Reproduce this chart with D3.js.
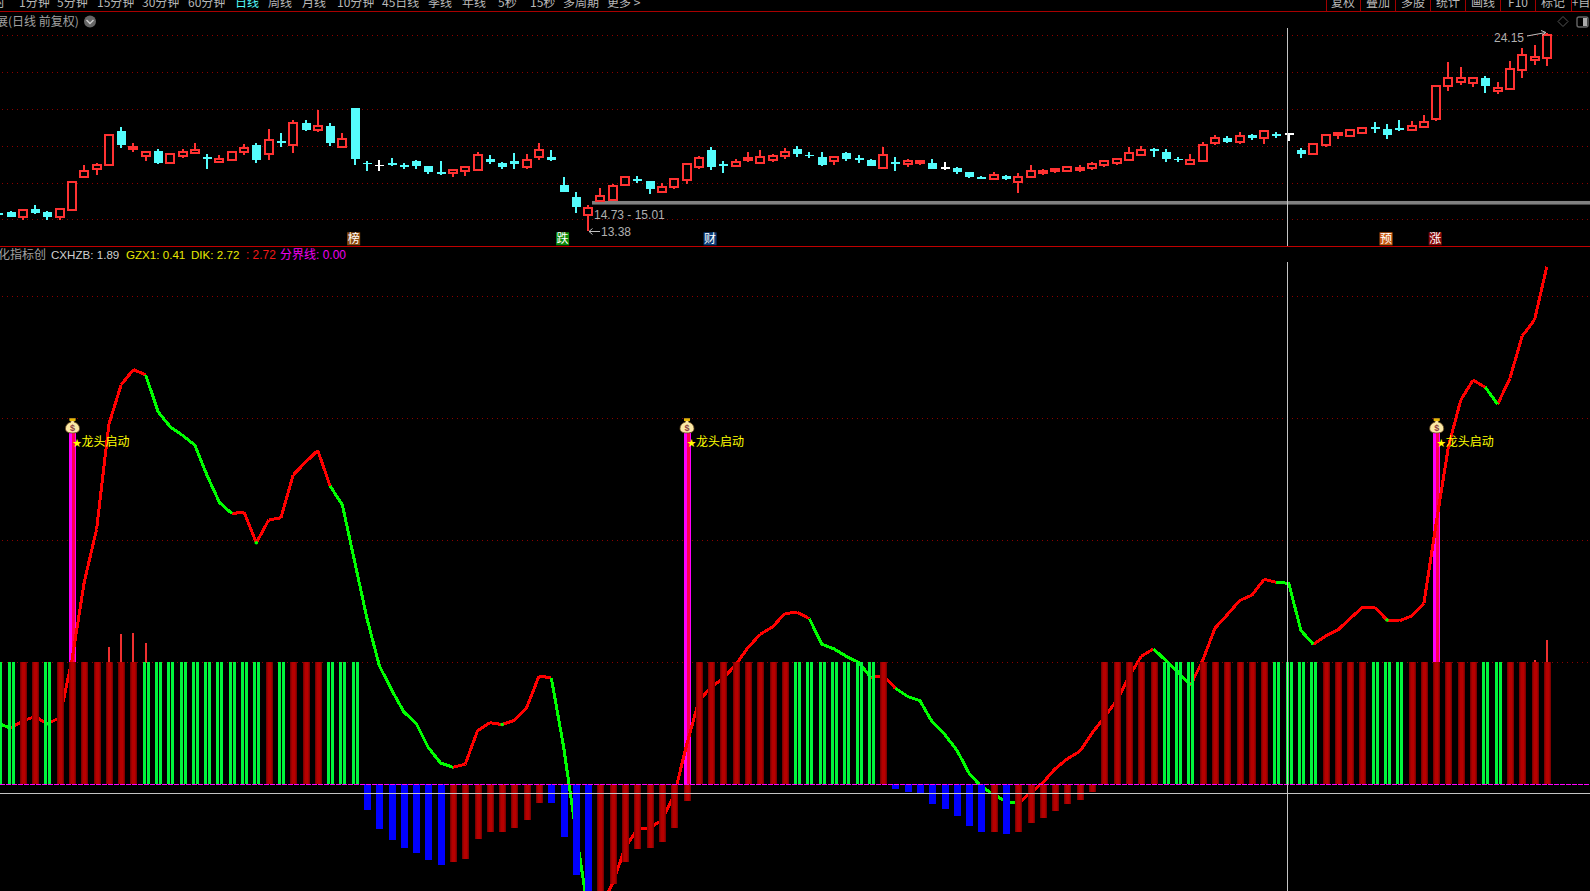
<!DOCTYPE html>
<html><head><meta charset="utf-8">
<script src="https://cdn.jsdelivr.net/npm/d3@7"></script>
<style>html,body{margin:0;padding:0;background:#000;overflow:hidden}svg{display:block}</style>
</head><body><svg id="c" width="1590" height="891"></svg>
<script>
// ---- price panel (daily candles)
const opens=[14.33,14.40,14.11,14.56,14.38,14.11,14.53,16.30,16.74,16.97,18.80,17.86,17.44,17.71,17.06,17.46,17.62,17.41,17.10,17.24,17.64,18.04,17.53,18.24,18.02,19.22,18.84,19.07,17.95,20.05,17.08,16.97,17.06,16.95,17.17,16.90,16.57,16.50,16.63,16.66,17.28,17.04,17.15,16.83,17.41,17.37,15.87,15.21,14.22,15.01,15.07,15.85,16.17,16.07,15.47,15.76,16.12,16.86,17.77,17.01,16.92,17.24,17.04,17.23,17.46,17.82,17.52,17.39,17.17,17.61,17.33,17.21,16.81,17.10,17.01,17.04,17.06,16.83,16.79,16.55,16.30,16.17,16.36,16.01,16.28,16.50,16.61,16.65,16.70,16.77,16.94,17.06,17.24,17.52,17.82,17.66,17.28,17.03,17.15,18.17,18.42,18.22,18.58,18.40,18.62,18.67,17.75,17.53,18.02,18.57,18.51,18.71,19.00,18.91,18.95,18.87,19.00,19.47,21.23,21.48,21.43,21.68,20.99,21.07,22.10,22.68,22.75];
const highs=[14.35,14.47,14.51,14.76,14.43,14.56,16.05,16.94,17.04,18.60,19.02,18.13,17.66,17.81,17.53,17.84,18.13,17.53,17.48,17.70,18.11,18.13,18.89,18.67,19.38,19.40,19.94,19.22,18.67,20.05,17.17,17.21,17.32,17.04,17.23,16.90,17.17,16.70,16.83,17.64,17.50,17.10,17.59,17.53,18.13,17.77,16.30,15.49,14.76,15.69,15.92,16.34,16.34,16.07,15.96,16.26,17.03,17.44,17.93,17.17,17.28,17.64,17.77,17.55,17.86,17.99,17.66,17.66,17.37,17.66,17.48,17.28,17.93,17.39,17.26,17.24,17.30,17.10,16.84,16.55,16.37,16.57,16.43,16.52,16.95,16.74,16.81,16.88,16.95,17.10,17.23,17.33,17.93,17.99,17.86,17.82,17.39,17.55,18.19,18.58,18.53,18.75,18.66,18.82,18.75,18.69,17.88,18.11,18.60,18.67,18.87,18.98,19.29,19.18,19.40,19.34,19.65,21.27,22.55,22.28,21.66,21.79,21.47,22.61,23.31,23.46,24.15];
const lows=[14.22,14.11,13.98,14.31,13.98,13.98,14.47,16.26,16.43,16.94,17.90,17.68,17.19,17.03,17.06,17.35,17.57,16.75,17.08,17.19,17.52,17.08,17.24,17.95,17.62,18.82,18.77,18.00,17.90,16.97,16.65,16.65,16.92,16.75,16.75,16.46,16.41,16.32,16.37,16.66,17.03,16.74,16.74,16.75,17.24,17.17,15.50,14.36,13.38,15.01,15.00,15.85,15.98,15.38,15.47,15.65,15.94,16.74,16.68,16.52,16.92,17.13,17.04,17.12,17.28,17.39,17.33,16.90,16.95,17.17,17.06,16.92,16.74,16.63,16.86,16.95,16.75,16.68,16.48,16.25,16.19,16.17,16.14,15.45,16.28,16.41,16.54,16.65,16.59,16.68,16.86,16.95,17.17,17.44,17.39,17.12,17.12,16.95,17.15,18.04,18.13,18.10,18.31,18.11,18.42,18.26,17.33,17.53,17.93,18.38,18.51,18.64,18.69,18.37,18.82,18.82,19.00,19.36,20.98,21.30,21.19,20.89,20.81,21.07,21.70,22.39,22.35];
const closes=[14.24,14.11,14.51,14.34,14.11,14.56,16.05,16.63,16.95,18.60,18.04,17.93,17.66,17.06,17.53,17.68,17.77,17.30,17.26,17.64,17.90,17.23,18.31,18.13,19.25,18.87,19.07,18.15,18.38,17.30,17.03,16.92,16.99,16.92,16.92,16.59,16.52,16.70,16.83,17.52,17.13,16.86,17.03,17.24,17.79,17.23,15.50,14.67,14.60,15.29,15.79,16.28,16.12,15.65,15.76,16.17,17.03,17.32,16.86,16.88,17.10,17.32,17.41,17.42,17.68,17.55,17.46,16.95,17.37,17.28,17.28,16.92,17.52,17.04,17.15,17.15,16.75,16.75,16.59,16.30,16.25,16.43,16.21,16.32,16.65,16.63,16.74,16.83,16.81,17.03,17.17,17.28,17.61,17.79,17.70,17.28,17.21,17.21,18.06,18.44,18.20,18.53,18.42,18.82,18.55,18.60,17.53,18.11,18.60,18.67,18.87,18.98,18.89,18.58,18.87,19.05,19.31,21.27,21.70,21.70,21.66,21.25,21.14,22.19,22.95,22.81,24.04];
const whiteDays=[32,78,106];            // 1-based day numbers drawn as white crosses
const priceTicks=[24,22,20,18,16,14];
const channelPrice=14.9;
const eventDays=[30,47,59,114,118];     // the day each tag sits under
const eventTags=["榜","跌","财","预","涨"];
// ---- indicator panel
const lineValues=[50,46,52,55.5,49.6,54.7,102,166,209,295,327.5,340,335.5,305.5,293,286,278,253,231,222,223,198,216.6,218.5,253.6,264,273.7,244.6,229,182.6,136,97.5,77.5,59.3,50,30,17.4,14,16.6,44,50.5,49,52.5,63,88.7,87.3,30.8,-39,-104,-101,-81,-52,-37,-35.6,-29.5,-8.8,31.8,68.5,79.5,87,98,112,123,129,140,141,135.8,115,111,105,100,87.8,89,78.7,72,68.5,51,41,28,9,-2,-8.2,-14.3,-15.7,-6.9,1.4,12.8,21,27,42,55,68.5,88,105,111,101.5,92,81,101.5,128,139,150.6,155,168,165.6,164.8,126,114.8,121.6,126.5,136,145,145,134.7,134,138,148.4,214,277,315,331.4,325.4,311.5,332.8,367.5,380.6,424.3];
const greenRuns=[[1,2],[13,20],[28,38],[46,49],[67,72],[74,84],[95,98],[105,108],[122,123]];
const greenDots=[5,22,42,114];
const barValues=[100,100,100,100,100,100,100,100,100,100,100,100,100,100,100,100,100,100,100,100,100,100,100,100,100,100,100,100,100,100,-21,-37,-46,-52,-56,-62,-66,-64,-61,-45,-39,-39,-36,-29,-15,-15,-43,-74,-93,-101,-82,-64,-53,-52,-47,-36,-14,100,100,100,100,100,100,100,100,100,100,100,100,100,100,100,100,-4,-6,-7,-16,-20,-26,-34,-39,-39,-41,-39,-32,-28,-22,-16,-13,-6,100,100,100,100,100,100,100,100,100,100,100,100,100,100,100,100,100,100,100,100,100,100,100,100,100,100,100,100,100,100,100,100,100,100,100,100,100];
const barKinds="GGRRGRRRRRRRGGGGGGGGGGRGRRRGGGBBBBBBBRRRRRRRRBBBBRRRRRRRRRRRRRRRRGGGGGGGRBBBBBBBBRBRRRRRRRRRRRRGGGRRRRRRGGGGRRRRGGGRRRRRRGGRRRR".split("");
const spikeDays=[10,11,12,13,126,127];
const spikeValues=[112.3,123,123.8,115.6,101.9,118.3];
const signalDays=[7,57,118];
const signalTop=288;
const signalText="龙头启动";
const indicatorTicks=[100,200,300,400];
// ---- captions
const menuLeft=[["时",-7],["1分钟",19],["5分钟",57],["15分钟",97],["30分钟",142],["60分钟",188],["日线",235],["周线",268],["月线",302],["10分钟",337],["45日线",382],["季线",428],["年线",462],["5秒",498],["15秒",530],["多周期",563],["更多 >",607]];
const menuRight=[["复权",1343],["叠加",1378],["多股",1413],["统计",1448],["画线",1483],["F10",1518],["标记",1553],["+自",1581]];
const menuDividers=[1326.5,1360.5,1395.5,1430.5,1465.5,1500.5,1535.5,1571.5];
const legendItems=[["CXHZB: 1.89",51,"#d0d0d0",11.6],["GZX1: 0.41",126,"#e8e800",11.6],["DIK: 2.72",191,"#e8e800",11.6],[": 2.72",246,"#f01818",11.9],["分界线: 0.00",280,"#f000f0",12]];

const CJK='"Noto Sans CJK SC","Liberation Sans",sans-serif', LAT='"Liberation Sans","Noto Sans CJK SC",sans-serif';
const svg=d3.select("#c");
svg.append("rect").attr("width",1590).attr("height",891).attr("fill","#000");
const defs=svg.append("defs");
const grad=defs.append("linearGradient").attr("id","dr");
[[0,"#6e0000"],[.3,"#b40000"],[.7,"#b80000"],[1,"#6e0000"]].forEach(s=>grad.append("stop").attr("offset",s[0]).attr("stop-color",s[1]));

const x=d3.scaleLinear().domain([7,127]).range([72,1546.8]);
const yP=d3.scaleLinear().domain([14,24]).range([219.33,35.3]);
const yI=d3.scaleLinear().domain([0,100]).range([784.33,662.33]);
const days=d3.range(1,128);
const px=v=>Math.round(v);

// header
const txt=(g,t,xx,yy,fill,opt={})=>g.append("text").text(t).attr("x",xx).attr("y",yy).attr("fill",fill)
  .attr("font-family",opt.ff||CJK).attr("font-size",opt.fs||12).attr("text-anchor",opt.a||"start");
const head=svg.append("g");
menuLeft.forEach(m=>txt(head,m[0],m[1],7,m[0]==="日线"?"#54fcfc":"#b8b8b8"));
menuRight.forEach(m=>txt(head,m[0],m[1],7,"#b8b8b8",{a:"middle"}));
head.selectAll("line.d").data(menuDividers).join("line").attr("x1",d=>d).attr("x2",d=>d).attr("y1",0).attr("y2",11).attr("stroke","#a00000");
head.append("line").attr("x1",0).attr("x2",1590).attr("y1",11.5).attr("y2",11.5).attr("stroke","#a80000");
txt(head,"展(日线 前复权)",-4,26,"#a0a0a0");
head.append("circle").attr("cx",90).attr("cy",21.5).attr("r",6).attr("fill","#666");
head.append("path").attr("d","M86.5 20l3.5 3.5 3.5-3.5").attr("fill","none").attr("stroke","#ccc").attr("stroke-width",1.4);
head.append("path").attr("d","M1563 16.5l5 5-5 5-5-5z").attr("fill","none").attr("stroke","#555");
head.append("rect").attr("x",1577).attr("y",17).attr("width",11).attr("height",10).attr("rx",2).attr("fill","none").attr("stroke","#666").attr("stroke-width",1.4);
head.append("rect").attr("x",1583).attr("y",18).attr("width",4).attr("height",8).attr("fill","#aaa");

// price grid
const dot=(g,data,sc)=>g.selectAll("line.g").data(data).join("line").attr("x1",2).attr("x2",1590)
  .attr("y1",d=>px(sc(d))+.5).attr("y2",d=>px(sc(d))+.5).attr("stroke","#8c0000").attr("stroke-dasharray","1 4");
dot(svg.append("g"),priceTicks,yP);
// channel line
svg.append("rect").attr("x",592).attr("width",998).attr("y",yP(channelPrice)-1.8).attr("height",3.6).attr("fill","#808080");

// candles
const cg=svg.append("g").attr("shape-rendering","crispEdges");
const colorOf=i=>whiteDays.includes(i)?"#ffffff":closes[i-1]>opens[i-1]?"#ff3232":"#54fcfc";
const cd=cg.selectAll("g").data(days).join("g");
cd.append("rect").attr("x",i=>px(x(i))-1).attr("width",2).attr("y",i=>yP(highs[i-1])).attr("height",i=>yP(lows[i-1])-yP(highs[i-1])).attr("fill",colorOf);
cd.append("rect").attr("x",i=>px(x(i))-(closes[i-1]>opens[i-1]?4:4.5)).attr("width",i=>closes[i-1]>opens[i-1]?8:9)
  .attr("y",i=>yP(Math.max(opens[i-1],closes[i-1])))
  .attr("height",i=>Math.max(1.5,Math.abs(yP(opens[i-1])-yP(closes[i-1]))))
  .attr("fill",i=>closes[i-1]>opens[i-1]?"#000":colorOf(i))
  .attr("stroke",i=>closes[i-1]>opens[i-1]?"#ff3232":"none").attr("stroke-width",2);

// price annotations
const ann=svg.append("g");
txt(ann,"24.15",1494,42,"#b0b0b0",{ff:LAT});
ann.append("path").attr("d","M1527 36L1546 32.5M1541 30.5l5 2-4 3").attr("fill","none").attr("stroke","#c0c0c0");
txt(ann,"14.73 - 15.01",594,219,"#b0b0b0",{ff:LAT});
txt(ann,"13.38",601,236,"#b0b0b0",{ff:LAT});
ann.append("path").attr("d","M589 231.5H600M592.5 228.5l-3.5 3 3.5 3").attr("fill","none").attr("stroke","#c0c0c0");
const tagFill={"榜":"#8a4a10","跌":"#0a8a0a","财":"#0c3c78","预":"#c85a10","涨":"#860808"};
eventTags.forEach((t,k)=>{
  const cx=x(eventDays[k])-1;
  ann.append("rect").attr("x",cx-6.5).attr("y",232.3).attr("width",13).attr("height",13).attr("fill",tagFill[t]);
  txt(ann,t,cx,243.2,"#fff",{a:"middle",fs:12});
});
svg.append("line").attr("x1",0).attr("x2",1590).attr("y1",246.5).attr("y2",246.5).attr("stroke","#c00000");

// legend
const lg=svg.append("g");
txt(lg,"化指标创",46,259,"#a0a0a0",{a:"end"});
legendItems.forEach(l=>txt(lg,l[0],l[1],259,l[2],{ff:LAT,fs:l[3]}));

// indicator grid
dot(svg.append("g"),indicatorTicks,yI);

// signal pillars (below the bars)
const sg=svg.append("g").attr("shape-rendering","crispEdges");
sg.selectAll("rect.m").data(signalDays).join("rect").attr("x",i=>px(x(i))-3).attr("width",7).attr("y",yI(signalTop)).attr("height",yI(0)-yI(signalTop)).attr("fill","#ff00ff");
sg.selectAll("rect.c").data(signalDays).join("rect").attr("class","c").attr("x",i=>px(x(i))).attr("width",3).attr("y",yI(signalTop)).attr("height",yI(0)-yI(signalTop)).attr("fill","#ff0050");

// indicator line
const lineGen=d3.line().x(i=>x(i)).y(i=>yI(lineValues[i-1]));
const isGreen=i=>greenRuns.some(r=>i>r[0]&&i<=r[1]);
const lg2=svg.append("g").attr("fill","none").attr("stroke-width",3).attr("shape-rendering","crispEdges");
const redPath=days.slice(1).filter(i=>!isGreen(i)).map(i=>lineGen([i-1,i])).join("");
lg2.append("path").attr("d",redPath).attr("stroke","#ff0000");
lg2.selectAll("path.g").data(greenRuns).join("path").attr("class","g").attr("d",r=>lineGen(d3.range(r[0],r[1]+1))).attr("stroke","#00ff00");
svg.append("g").selectAll("circle").data(greenDots).join("circle").attr("cx",i=>x(i)).attr("cy",i=>yI(lineValues[i-1])).attr("r",1.8).attr("fill","#00ff00");

// spikes
svg.append("g").attr("shape-rendering","crispEdges").selectAll("rect").data(spikeDays).join("rect")
  .attr("x",i=>px(x(i))-1).attr("width",2).attr("y",(i,k)=>yI(spikeValues[k])).attr("height",(i,k)=>yI(100)-yI(spikeValues[k])+1).attr("fill","#f03030");

// histogram bars
const bg=svg.append("g").attr("shape-rendering","crispEdges");
days.forEach(i=>{
  const v=barValues[i-1],k=barKinds[i-1],xx=px(x(i));
  const top=yI(Math.max(v,0)),h=Math.abs(yI(v)-yI(0));
  if(k==="G"){
    bg.append("rect").attr("x",xx-3).attr("width",3).attr("y",top).attr("height",h).attr("fill","#00f63c");
    bg.append("rect").attr("x",xx+1).attr("width",3).attr("y",top).attr("height",h).attr("fill","#00f63c");
  } else bg.append("rect").attr("x",xx-3).attr("width",7).attr("y",top).attr("height",h).attr("fill",k==="B"?"#0000ff":"url(#dr)");
});
// zero line
svg.append("line").attr("x1",0).attr("x2",1590).attr("y1",px(yI(0))+.5).attr("y2",px(yI(0))+.5).attr("stroke","#ff00ff").attr("stroke-width",1).attr("stroke-dasharray","5 1").attr("shape-rendering","crispEdges");

// signal icons and labels
signalDays.forEach(i=>{
  const cx=x(i)+.5,g=svg.append("g").attr("transform",`translate(${cx},${yI(signalTop)})`);
  g.append("path").attr("d","M-3-14.5H3L1.5-11C5-10 7-7.5 7-4.5 7-1 4 0 0 0S-7-1-7-4.5C-7-7.5-5-10-1.5-11Z").attr("fill","#fbe9a6").attr("stroke","#6b4a20").attr("stroke-width",.8);
  g.append("rect").attr("x",-3).attr("y",-14.5).attr("width",6).attr("height",2.5).attr("fill","#e8b800");
  g.append("text").text("$").attr("text-anchor","middle").attr("y",-1.8).attr("font-size",9).attr("font-weight","bold").attr("font-family",LAT).attr("fill","#8a4040");
  const t=svg.append("text").attr("x",x(i)+.5).attr("y",446).attr("fill","#ffff00").attr("font-family",CJK).attr("font-size",12);
  t.append("tspan").text("★").attr("font-size",9);
  t.append("tspan").text(signalText);
});

// crosshair
const cross=svg.append("g").attr("stroke","#c4c4c4").attr("shape-rendering","crispEdges");
cross.append("line").attr("x1",1287.5).attr("x2",1287.5).attr("y1",28).attr("y2",246);
cross.append("line").attr("x1",1287.5).attr("x2",1287.5).attr("y1",262).attr("y2",891);
cross.append("line").attr("x1",0).attr("x2",1590).attr("y1",793.5).attr("y2",793.5);
</script></body></html>
